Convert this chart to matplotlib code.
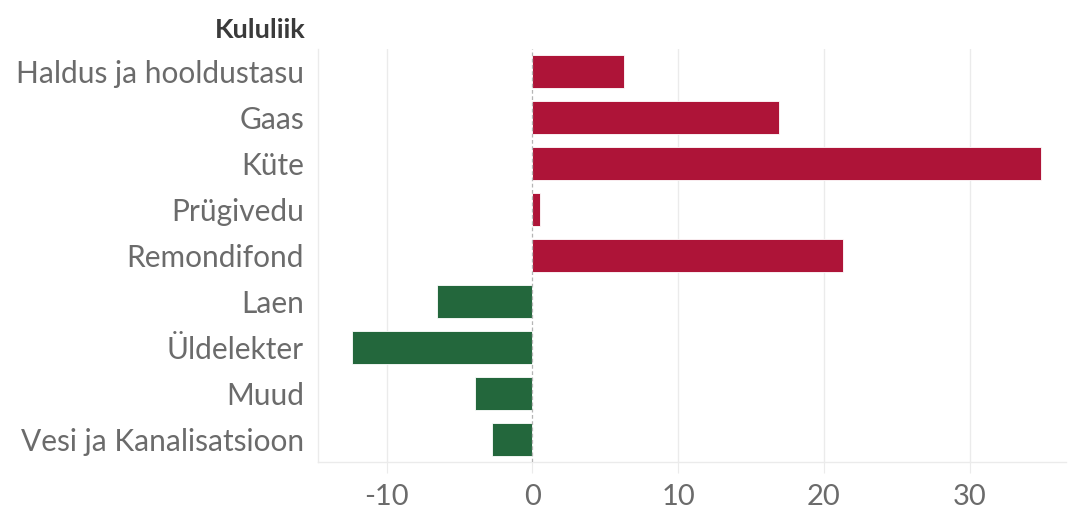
import matplotlib
matplotlib.use("Agg")
import numpy as np
from matplotlib import pyplot as plt

# data
CATEGORIES = [
    "Haldus ja hooldustasu",
    "Gaas",
    "Küte",
    "Prügivedu",
    "Remondifond",
    "Laen",
    "Üldelekter",
    "Muud",
    "Vesi ja Kanalisatsioon",
]
VALUES = [6.3, 16.9, 34.9, 0.5, 21.3, -6.55, -12.4, -3.9, -2.75]
XTICKS = [-10, 0, 10, 20, 30]

RED = "#ae1438"
GREEN = "#23673c"
GRID = "#ebebeb"
TEXT = "#6b6b6b"

plt.rcParams["font.family"] = ["Lato", "DejaVu Sans"]

fig = plt.figure(figsize=(10.68, 5.09), dpi=100)
ax = fig.add_axes([318 / 1068, 1 - 462 / 509, (1066 - 318) / 1068, (462 - 49) / 509])

y = np.arange(len(CATEGORIES))
colors = [RED if v >= 0 else GREEN for v in VALUES]
ax.barh(y, VALUES, height=0.72, color=colors, edgecolor="white", linewidth=0.6, zorder=3)

ax.set_ylim(len(CATEGORIES) - 0.5, -0.5)
ax.set_xlim(-14.7, 36.6)
ax.set_yticks(y)
ax.set_yticklabels(CATEGORIES, fontsize=21.5, color=TEXT)
ax.set_xticks(XTICKS)
ax.set_xticklabels([str(t) for t in XTICKS], fontsize=21, color=TEXT)

for t in XTICKS:
    if t != 0:
        ax.axvline(t, color=GRID, linewidth=1.0, zorder=1)
ax.axvline(0, color="#b5b5b5", linewidth=0.9, linestyle=(0, (3, 2)), zorder=4)

for side in ["top", "right"]:
    ax.spines[side].set_visible(False)
ax.spines["left"].set_color(GRID)
ax.spines["bottom"].set_color(GRID)
ax.spines["left"].set_linewidth(1.0)
ax.spines["bottom"].set_linewidth(1.0)

ax.tick_params(axis="y", length=0, pad=10)
ax.tick_params(axis="x", length=8, color=GRID, pad=8)

fig.text(306 / 1068, 1 - 30 / 509, "Kululiik", ha="right", va="center",
         fontsize=19.5, fontweight="bold", color="#3a3a3a")

fig.savefig("out.png", dpi=100)
